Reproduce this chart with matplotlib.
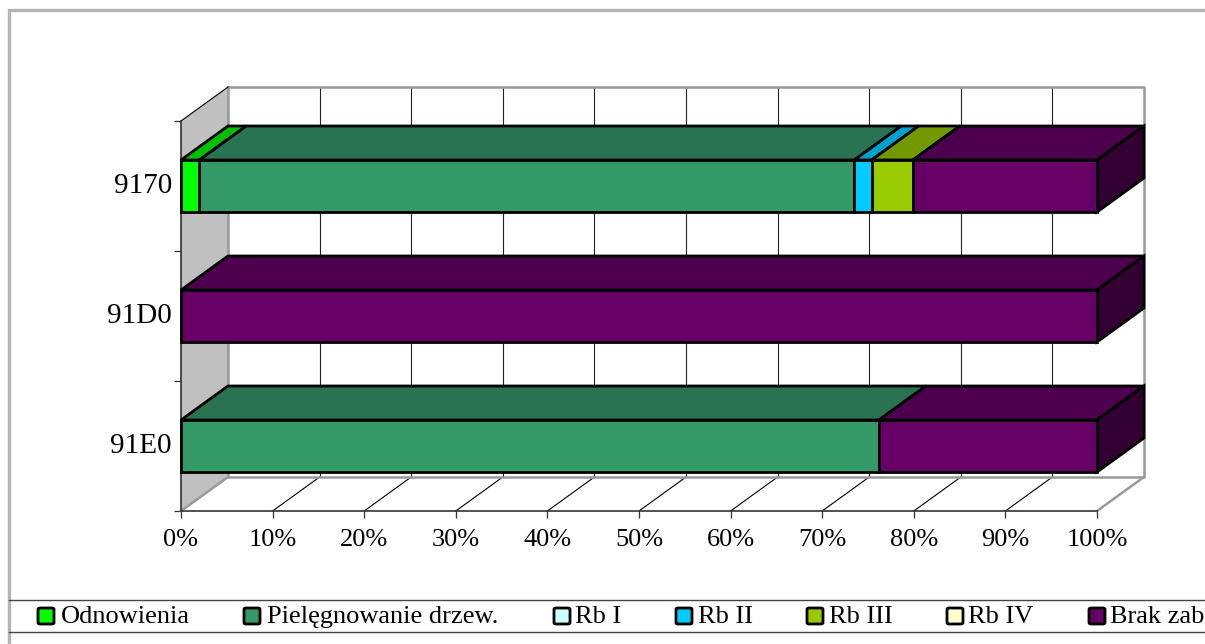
import matplotlib
matplotlib.use("Agg")
import matplotlib.pyplot as plt
from matplotlib.lines import Line2D
from matplotlib.patches import FancyBboxPatch, Polygon

W, H = 1205, 644

CATEGORIES = ["91E0", "91D0", "9170"]
SERIES_NAMES = ["Odnowienia", "Pielęgnowanie drzew.", "Rb I", "Rb II", "Rb III", "Rb IV", "Brak zabiegów"]
ODNOWIENIA = [0.0, 0.0, 2.0]
PIELEGNOWANIE = [76.2, 0.0, 71.5]
RB_I = [0.0, 0.0, 0.0]
RB_II = [0.0, 0.0, 1.9]
RB_III = [0.0, 0.0, 4.5]
RB_IV = [0.0, 0.0, 0.0]
BRAK = [23.8, 100.0, 20.1]
SERIES = [ODNOWIENIA, PIELEGNOWANIE, RB_I, RB_II, RB_III, RB_IV, BRAK]
FRONT = ["#00FF00", "#339966", "#CCFFFF", "#00CCFF", "#99CC00", "#FFFFCC", "#660066"]
TOP = ["#00C000", "#297352", "#99C0C0", "#00A0CC", "#739900", "#C0C099", "#4D004D"]
SIDE = ["#008000", "#1A4D33", "#668080", "#006680", "#4D6600", "#808066", "#330033"]
XTICKS = list(range(0, 101, 10))
LEGEND_SWATCH_X = [38, 244, 554, 676, 807, 947, 1089]
LEGEND_TEXT_X = [61, 267, 575, 698, 829, 968, 1110]

# depth of the fake 3d box, in data units
DX = 47 / 916 * 100
DY = 34 / 130
BAR_H = 52 / 130

plt.rcParams["font.family"] = ["Liberation Serif", "DejaVu Serif"]

fig = plt.figure(figsize=(W / 100, H / 100), dpi=100)
ax = fig.add_axes([181 / W, 1 - 511 / H, 916 / W, 390 / H])
ax.set_xlim(0, 100)
ax.set_ylim(-0.5, 2.5)
for s in ax.spines.values():
    s.set_visible(False)
ax.patch.set_alpha(0)


def poly(points, fc, ec="black", lw=2.0, z=5):
    ax.add_patch(Polygon(points, closed=True, fc=fc, ec=ec, lw=lw, zorder=z,
                         clip_on=False, joinstyle="miter"))


def seg(xs, ys, color="#222222", lw=0.8, z=2):
    ax.add_line(Line2D(xs, ys, color=color, lw=lw, zorder=z, clip_on=False))


y0, y1 = -0.5, 2.5
# side wall
poly([(0, y0), (DX, y0 + DY), (DX, y1 + DY), (0, y1)], "#C0C0C0", ec="none", lw=0, z=1)
# gridlines on back wall and floor
for t in XTICKS[1:-1]:
    seg([t + DX, t + DX], [y0 + DY, y1 + DY])
    seg([t, t + DX], [y0, y0 + DY], color="black")
# box frame
seg([DX, 100 + DX, 100 + DX, DX, DX], [y1 + DY, y1 + DY, y0 + DY, y0 + DY, y1 + DY], color="#999999", lw=1.8, z=3)
seg([0, DX], [y0, y0 + DY], color="#999999", lw=1.8, z=3)
seg([100, 100 + DX], [y0, y0 + DY], color="#999999", lw=1.8, z=3)
seg([0, DX], [y1, y1 + DY], color="black", lw=0.8, z=3)
# axes lines
seg([0, 0], [y0, y1], color="#333333", lw=1.2, z=3)
seg([0, 100], [y0, y0], color="#333333", lw=1.2, z=3)

ax.set_xticks(XTICKS)
ax.set_xticklabels([f"{t}%" for t in XTICKS])
ax.set_yticks([-0.5, 0.5, 1.5, 2.5])
ax.set_yticklabels([])
ax.tick_params(axis="x", length=5, width=0.9, color="#333333", labelsize=19, pad=8)
ax.tick_params(axis="y", length=5, width=0.9, color="#333333")
for i, name in enumerate(CATEGORIES):
    ax.text(-1.0, i, name, ha="right", va="center", fontsize=21)

for c in range(len(CATEGORIES)):
    left = 0.0
    last = None
    for s, values in enumerate(SERIES):
        v = values[c]
        if v <= 0:
            continue
        ax.barh(c, v, left=left, height=BAR_H, color=FRONT[s], edgecolor="black",
                linewidth=2.0, zorder=6, clip_on=False)
        top = c + BAR_H / 2
        poly([(left, top), (left + v, top), (left + v + DX, top + DY), (left + DX, top + DY)], TOP[s])
        left += v
        last = s
    bot = c - BAR_H / 2
    top = c + BAR_H / 2
    poly([(left, bot), (left + DX, bot + DY), (left + DX, top + DY), (left, top)], SIDE[last])


# outer frame and legend band, in figure pixels
def fig_line(xs, ys, color, lw):
    fig.add_artist(Line2D([x / W for x in xs], [1 - y / H for y in ys], color=color, lw=lw,
                          solid_joinstyle="miter"))


fig_line([8.5, 8.5, W], [H, 10, 10], "#B4B4B4", 2.4)
fig_line([9, W], [600, 600], "#444444", 1.0)
fig_line([9, W], [632, 632], "#444444", 1.0)
for name, sx, tx, color in zip(SERIES_NAMES, LEGEND_SWATCH_X, LEGEND_TEXT_X, FRONT):
    fig.add_artist(FancyBboxPatch((sx / W, 1 - 624 / H), 16 / W, 16 / H, boxstyle="round,pad=0,rounding_size=0.002",
                                  fc=color, ec="black", lw=2.0, transform=fig.transFigure))
    fig.text(tx / W, 1 - 617 / H, name, fontsize=19, ha="left", va="center")

fig.savefig("out.png", dpi=100)
